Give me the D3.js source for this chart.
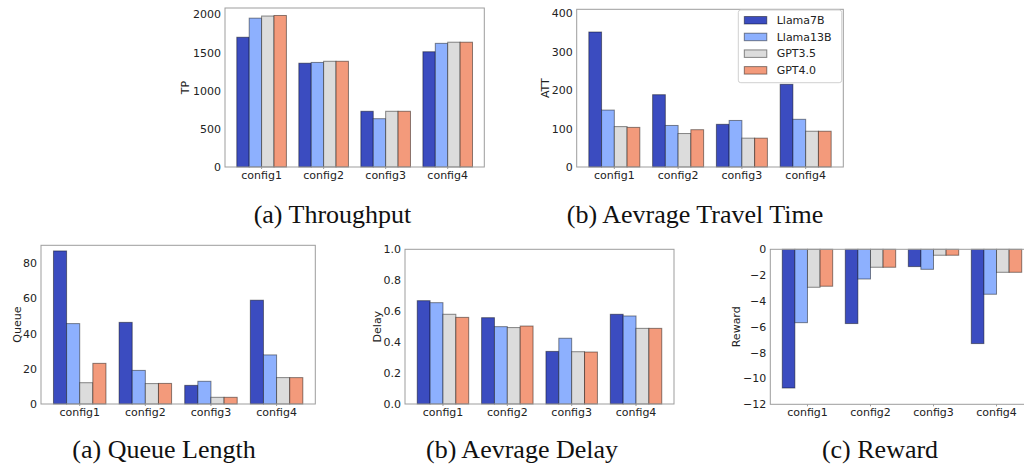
<!DOCTYPE html>
<html>
<head>
<meta charset="utf-8">
<script src="https://cdn.jsdelivr.net/npm/d3@7"></script>
<style>
  body { margin: 0; background: #fff; }
  svg { display: block; }
  text { font-family: "DejaVu Sans", sans-serif; fill: #222; }
  .caption { font-family: "Liberation Serif", "Times New Roman", serif; font-size: 26px; fill: #111; }
</style>
</head>
<body>
<svg width="1024" height="464"></svg>
<script>
const MODELS = ["Llama7B", "Llama13B", "GPT3.5", "GPT4.0"];
const CONFIGS = ["config1", "config2", "config3", "config4"];
const COLORS = ["#3b4cc0", "#8db0fe", "#dcdcdc", "#f39a7b"];

// one row per config, one column per model
const tpValues = [
  [1700, 1950, 1978, 1985],
  [1360, 1370, 1385, 1385],
  [730, 633, 730, 730],
  [1510, 1620, 1635, 1635]
];
const attValues = [
  [351, 148, 105, 103],
  [188, 108, 87, 97],
  [111, 121, 75, 75],
  [215, 124, 93, 93]
];
const queueValues = [
  [87.0, 45.7, 12.1, 23.1],
  [46.4, 19.1, 11.6, 11.7],
  [10.6, 12.9, 3.8, 3.8],
  [59.0, 27.9, 15.0, 15.0]
];
const delayValues = [
  [0.668, 0.655, 0.580, 0.560],
  [0.558, 0.500, 0.494, 0.504],
  [0.340, 0.425, 0.338, 0.336],
  [0.580, 0.569, 0.489, 0.489]
];
const rewardValues = [
  [-10.74, -5.68, -2.94, -2.86],
  [-5.75, -2.30, -1.39, -1.39],
  [-1.34, -1.55, -0.46, -0.46],
  [-7.30, -3.48, -1.78, -1.78]
];

const tpTicks = [0, 500, 1000, 1500, 2000];
const attTicks = [0, 100, 200, 300, 400];
const queueTicks = [0, 20, 40, 60, 80];
const delayTicks = [0, 0.2, 0.4, 0.6, 0.8, 1.0];
const rewardTicks = [0, -2, -4, -6, -8, -10, -12];

const svg = d3.select("svg");

function drawBars(opts) {
  const [x0, y0, x1, y1] = opts.frame;
  const g = svg.append("g");

  const x = d3.scaleBand().domain(CONFIGS).range([x0, x1])
    .paddingInner(0.2).paddingOuter(0.19);
  const xs = d3.scaleBand().domain(MODELS).range([0, x.bandwidth()]);
  const y = d3.scaleLinear().domain(opts.yDomain).range([y1, y0]);

  const rows = opts.values.map((row, i) =>
    row.map((v, j) => ({config: CONFIGS[i], model: MODELS[j], color: COLORS[j], value: v})));

  g.selectAll("g.grp")
    .data(rows)
    .join("g")
    .attr("class", "grp")
    .selectAll("rect")
    .data(d => d)
    .join("rect")
    .attr("x", d => x(d.config) + xs(d.model))
    .attr("y", d => y(Math.max(0, d.value)))
    .attr("width", xs.bandwidth())
    .attr("height", d => Math.abs(y(d.value) - y(0)))
    .attr("fill", d => d.color)
    .attr("stroke", "#000")
    .attr("stroke-opacity", 0.45)
    .attr("stroke-width", 1);

  // frame
  g.append("rect")
    .attr("x", x0).attr("y", y0)
    .attr("width", x1 - x0).attr("height", y1 - y0)
    .attr("fill", "none")
    .attr("stroke", "#9d9d9d")
    .attr("stroke-width", 1);

  const ya = g.append("g")
    .attr("transform", `translate(${x0},0)`)
    .call(d3.axisLeft(y).tickValues(opts.yTicks).tickSize(0).tickPadding(4)
      .tickFormat(opts.yFormat || d3.format("d")));
  ya.select(".domain").remove();
  ya.selectAll("text").attr("font-size", 11).attr("font-family", null);

  const xa = g.append("g")
    .attr("transform", `translate(0,${y1})`)
    .call(d3.axisBottom(x).tickSize(2).tickPadding(2));
  xa.select(".domain").remove();
  xa.selectAll("line").attr("stroke", "#9d9d9d");
  xa.selectAll("text").attr("font-size", 11).attr("font-family", null);

  g.append("text")
    .attr("transform", `translate(${opts.labelX},${(y0 + y1) / 2}) rotate(-90)`)
    .attr("text-anchor", "middle")
    .attr("dy", "0.35em")
    .attr("font-size", 11)
    .text(opts.label);
}

drawBars({frame: [225, 8, 484.3, 167], yDomain: [0, 2083], yTicks: tpTicks,
  values: tpValues, label: "TP", labelX: 185});
drawBars({frame: [576.7, 9.3, 843.3, 167], yDomain: [0, 410], yTicks: attTicks,
  values: attValues, label: "ATT", labelX: 545});
drawBars({frame: [41, 245.3, 315.3, 404], yDomain: [0, 90.2], yTicks: queueTicks,
  values: queueValues, label: "Queue", labelX: 16.7});
drawBars({frame: [405, 249.3, 674, 404], yDomain: [0, 1], yTicks: delayTicks,
  values: delayValues, label: "Delay", labelX: 377.3, yFormat: d3.format(".1f")});
drawBars({frame: [770.3, 249.3, 1033.7, 404.3], yDomain: [-12, 0], yTicks: rewardTicks,
  values: rewardValues, label: "Reward", labelX: 736});

// legend inside the ATT panel
const lg = svg.append("g").attr("transform", "translate(738.3,10)");
lg.append("rect")
  .attr("width", 103.4).attr("height", 72.7).attr("rx", 2.5)
  .attr("fill", "#fff").attr("fill-opacity", 0.8)
  .attr("stroke", "#d0d0d0");
const items = lg.selectAll("g.item")
  .data(MODELS)
  .join("g")
  .attr("class", "item")
  .attr("transform", (d, i) => `translate(0,${10 + i * 16.7})`);
items.append("rect")
  .attr("x", 6).attr("y", -3.5).attr("width", 22.5).attr("height", 7.5)
  .attr("fill", (d, i) => COLORS[i])
  .attr("stroke", "#000").attr("stroke-opacity", 0.45);
items.append("text")
  .attr("x", 38.4).attr("dy", "0.35em")
  .attr("font-size", 11)
  .text(d => d);

// sub-figure captions
const captions = [
  {text: "(a) Throughput", x: 332.5, y: 223},
  {text: "(b) Aevrage Travel Time", x: 695, y: 223},
  {text: "(a) Queue Length", x: 164, y: 458},
  {text: "(b) Aevrage Delay", x: 522, y: 458},
  {text: "(c) Reward", x: 880, y: 458}
];
svg.selectAll("text.caption")
  .data(captions)
  .join("text")
  .attr("class", "caption")
  .attr("x", d => d.x).attr("y", d => d.y)
  .attr("text-anchor", "middle")
  .text(d => d.text);
</script>
</body>
</html>
